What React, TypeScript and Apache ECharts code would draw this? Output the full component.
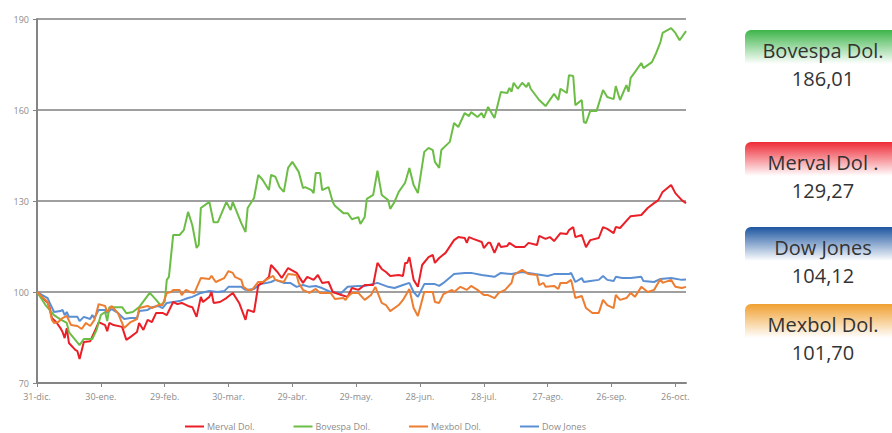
import React, { useEffect, useRef } from "react";
import * as echarts from "echarts";

// x values are day offsets from 31-dic.
const tickDays = [0, 30, 60, 90, 120, 150, 180, 210, 240, 270, 300];
const tickLabels = ["31-dic.", "30-ene.", "29-feb.", "30-mar.", "29-abr.", "29-may.", "28-jun.", "28-jul.", "27-ago.", "26-sep.", "26-oct."];
const yTicks = [70, 100, 130, 160, 190];

const seriesNames = ["Merval Dol.", "Bovespa Dol.", "Mexbol Dol.", "Dow Jones"];
const seriesColors = ["#ea1f27", "#6cbd45", "#ed7d31", "#5b8fd3"];

const mervalData: [number, number][] = [[0,100],[5,96.4],[6,94.7],[7,91.4],[9,90.1],[11,88.1],[12,86.8],[13,84.8],[14,88.1],[15,83.2],[18,80.9],[19,80.5],[20,77.9],[22,83.5],[25,83.8],[27,86.8],[29,90.1],[32,89.1],[33,87.1],[34,89.8],[36,89.1],[40,88.5],[42,84.2],[44,85.2],[47,86.8],[48,89.8],[50,87.5],[52,90.8],[54,90.1],[56,93.1],[59,93.1],[61,92.4],[64,96.7],[66,96],[68,96.4],[71,95.4],[73,95],[75,91.8],[77,98.4],[78,96.7],[81,98.4],[82,100],[83,96.4],[86,96.7],[89,98],[92,99.7],[95,96.4],[98,90.8],[99,94.1],[102,93.4],[104,102.3],[106,103],[109,105],[110,108.9],[113,106.6],[115,104.6],[118,107.9],[122,106.3],[125,103],[127,105],[130,104],[132,105.6],[134,103],[137,103.3],[139,100],[143,99],[146,98.4],[148,101.3],[151,100.7],[154,102.3],[158,102.3],[160,109.6],[162,107.6],[164,106.6],[166,105.3],[170,105.6],[172,105.3],[173,109.6],[174,109.6],[175,111.5],[177,104],[179,101.7],[181,108.9],[184,111.5],[186,112.2],[187,109.6],[189,111.2],[192,112.9],[196,117.1],[198,118.1],[201,117.8],[202,116.2],[203,118.1],[205,117.5],[209,116.5],[210,114.5],[212,116.2],[213,116.2],[215,112.9],[217,116.2],[218,114.8],[221,115.2],[222,116.2],[225,114.8],[229,114.8],[231,116.2],[235,115.5],[236,118.5],[239,117.5],[241,118.1],[243,116.8],[246,119.4],[249,119.1],[250,120.4],[252,121.4],[253,118.1],[256,118.8],[258,114.8],[260,117.1],[264,117.8],[266,121.4],[268,120.8],[271,119.4],[272,121.4],[274,121.1],[279,125],[284,125.4],[287,127.7],[290,129.3],[292,130.3],[294,133],[298,135.3],[300,132.6],[303,130.3],[305,129.27]];

const bovespaData: [number, number][] = [[0,100],[4,95.7],[8,92.4],[11,91],[14,89.8],[15,86.8],[20,82.5],[22,84.5],[26,84.5],[28,87.5],[30,92.4],[32,93.4],[33,90.4],[34,95],[40,95],[42,93],[45,93.4],[48,95],[53,99.7],[56,97.4],[58,95.7],[60,96.7],[61,104],[62,105],[64,118.8],[67,118.8],[69,120.4],[71,126.4],[73,122],[75,114.5],[76,115.5],[77,127.7],[81,129.7],[83,123],[85,123],[89,129.7],[91,127],[92,129.7],[96,122.7],[98,119.8],[99,127.7],[102,131],[104,138.6],[106,137],[109,133.6],[110,138.6],[112,138],[114,134.6],[116,133],[118,140.9],[120,142.9],[123,139.6],[125,134.3],[126,134.6],[129,133.6],[130,132.6],[131,139.2],[133,139.2],[134,133.6],[137,134.6],[139,129.7],[140,128.4],[144,126],[146,126],[148,124],[151,124.7],[152,122.4],[154,124.7],[155,130.7],[158,132],[160,140],[162,132],[165,130.3],[166,127.4],[168,129.7],[170,133],[173,136],[175,140.9],[177,135.3],[179,132.6],[182,146.2],[184,147.5],[186,146.8],[187,142.9],[189,140.9],[190,146.8],[194,149.5],[196,155.7],[198,154.4],[201,159],[203,158],[204,159.3],[207,157.7],[209,159],[210,157.4],[212,161],[215,157.4],[218,165.9],[221,165.6],[222,167.3],[223,166],[224,169],[226,167],[228,169],[230,167.6],[231,169],[232,167],[236,163.3],[239,161.3],[243,165.3],[245,163.3],[246,167],[249,165.6],[250,171.5],[252,171.2],[253,161.6],[256,163.3],[257,156],[258,155.7],[260,159.7],[263,159.7],[266,166.6],[268,164.3],[271,163.6],[272,167.9],[274,163.3],[277,168.2],[278,166],[279,170.6],[281,172.5],[284,175.5],[285,173.8],[289,175.8],[291,178.8],[293,182.4],[294,185.4],[298,187],[300,185.4],[302,183],[305,186.01]];

const mexbolData: [number, number][] = [[0,100],[5,96.7],[6,94.1],[7,90.8],[8,89.8],[10,90.1],[12,91.4],[14,92.1],[16,89.1],[19,88.8],[21,87.8],[23,89.8],[25,88.8],[27,90.8],[29,96],[32,95.4],[33,93.4],[35,95.4],[38,93.1],[41,88.1],[44,90.1],[47,91.1],[48,94.7],[52,95.4],[54,94.7],[57,95.7],[59,95.7],[61,99.7],[63,100],[64,100.7],[67,100.7],[68,99],[70,100.7],[72,100],[74,99.7],[77,104.6],[81,104.3],[82,105.3],[84,103.3],[88,104.6],[90,106.9],[92,106.3],[93,105],[96,104],[97,101.7],[99,100.7],[101,100.7],[104,103.3],[106,103.3],[109,104.6],[111,105.3],[112,104],[116,103.3],[118,105.9],[122,105.6],[123,103],[125,100.7],[128,99.7],[131,101],[133,99.7],[138,99.7],[140,97.7],[144,98],[145,97.4],[146,98.4],[148,99.7],[151,99.7],[154,97.4],[157,99],[159,101.7],[162,96.4],[164,95.7],[166,93.7],[170,95.7],[172,97.4],[175,101],[177,94.7],[179,92.1],[182,100],[186,100],[187,96.7],[189,96.4],[191,99.3],[195,100.7],[196,100],[199,101.7],[202,100.7],[204,102],[207,100.7],[210,99],[212,99],[215,98],[217,99.7],[220,100.7],[223,103],[224,105.6],[228,107.3],[231,105.9],[235,105.6],[236,102.3],[238,103],[239,101.7],[243,102],[245,101],[246,103],[249,103],[251,104],[253,98],[256,98.7],[258,94.7],[261,93.1],[264,93.1],[266,97.4],[268,95.7],[271,94.7],[272,99],[274,97.4],[277,98],[279,99.7],[281,98.4],[284,101.7],[287,100],[290,100.7],[293,104.3],[294,103],[298,104],[300,101.7],[303,101.3],[305,101.7]];

const dowData: [number, number][] = [[0,100],[5,98],[6,96.4],[8,93.4],[11,93.7],[12,94.1],[13,92.4],[14,93.4],[15,91.8],[19,91.8],[20,90.4],[22,91.8],[25,91.1],[26,92.4],[27,91.4],[29,94.1],[32,94.1],[33,93.1],[35,94.4],[38,93.1],[41,91.1],[44,91.4],[47,91.4],[48,93.7],[52,94.1],[54,95],[57,95.4],[59,94.7],[61,96.4],[64,96.7],[67,97],[71,98],[73,98.4],[77,99.7],[81,100.3],[85,100],[88,100.3],[90,101.7],[92,101.7],[96,101.7],[98,100.7],[102,101],[105,102.6],[110,103.3],[112,104],[116,103],[119,103],[122,101.7],[125,102.3],[128,101.7],[131,102],[134,101.3],[138,100],[143,99.7],[146,101.7],[151,102],[154,102],[160,103],[165,101.7],[168,101.3],[172,102.3],[175,103],[177,100],[179,98.4],[182,102.6],[187,102.6],[189,102],[191,103],[196,105.9],[201,106.3],[204,106.3],[209,105.6],[215,105],[218,106.3],[223,105.9],[228,106.6],[234,105.9],[240,105.3],[243,105.9],[250,105.9],[251,106.3],[253,103.3],[256,104.6],[257,103.3],[260,103.6],[264,104],[266,105.3],[268,104],[271,103.6],[272,105],[275,104.6],[279,104.6],[284,105],[285,103.6],[290,103.3],[293,104.3],[298,104.6],[303,104],[305,104.12]];

// Right-hand summary boxes
const boxNames = ["Bovespa Dol.", "Merval Dol .", "Dow Jones", "Mexbol Dol."];
const boxValues = ["186,01", "129,27", "104,12", "101,70"];
const boxColors = ["#3db54a", "#ee2a36", "#1d55a0", "#f0a030"];
const boxTops = [30, 142, 227, 304];

export default function App() {
  const ref = useRef<HTMLDivElement>(null);
  useEffect(() => {
    if (!ref.current) return;
    const chart = echarts.init(ref.current, null, { renderer: "svg" });
    const allData = [mervalData, bovespaData, mexbolData, dowData];
    const graphics: any[] = [];
    boxNames.forEach((name, i) => {
      const top = boxTops[i];
      graphics.push({
        type: "rect",
        left: 745,
        top: top,
        shape: { width: 160, height: 34, r: [6, 0, 0, 0] },
        style: {
          fill: {
            type: "linear", x: 0, y: 0, x2: 0, y2: 1,
            colorStops: [
              { offset: 0, color: boxColors[i] },
              { offset: 1, color: "#ffffff" },
            ],
          },
        },
      });
      graphics.push({
        type: "text",
        x: 823,
        y: top + 20,
        style: {
          text: name, fill: "#333333", fontSize: 20, fontFamily: "Open Sans",
          align: "center", verticalAlign: "middle",
        },
      });
      graphics.push({
        type: "text",
        x: 823,
        y: top + 48,
        style: {
          text: boxValues[i], fill: "#333333", fontSize: 20, fontFamily: "Open Sans",
          align: "center", verticalAlign: "middle",
        },
      });
    });
    chart.setOption({
      animation: false,
      textStyle: { fontFamily: "Open Sans" },
      grid: { left: 37, top: 19, right: 206, bottom: 50, containLabel: false },
      legend: {
        data: seriesNames,
        left: 185,
        top: 422,
        icon: "rect",
        itemWidth: 19,
        itemHeight: 2,
        itemGap: 39,
        padding: 0,
        textStyle: { fontSize: 9, color: "#8c8c8c", padding: [0, 0, 0, -2] },
      },
      xAxis: {
        type: "value",
        min: 0,
        max: 305,
        interval: 30,
        axisLine: { show: true, lineStyle: { color: "#858585", width: 2 } },
        axisTick: { show: true, length: 4, customValues: tickDays, lineStyle: { color: "#858585", width: 1 } },
        axisLabel: {
          customValues: tickDays,
          fontSize: 9,
          color: "#8c8c8c",
          margin: 9,
          formatter: (v: number) => tickLabels[tickDays.indexOf(v)] ?? "",
        },
        splitLine: { show: false },
      },
      yAxis: {
        type: "value",
        min: 70,
        max: 190,
        interval: 30,
        axisLine: { show: true, lineStyle: { color: "#858585", width: 2 } },
        axisTick: { show: true, length: 4, lineStyle: { color: "#858585" } },
        axisLabel: {
          fontSize: 9, color: "#8c8c8c", margin: 8,
          formatter: (v: number) => (yTicks.includes(v) ? String(v) : ""),
        },
        splitLine: { show: true, lineStyle: { color: "#7f7f7f", width: 1.5 } },
      },
      series: seriesNames.map((name, i) => ({
        name,
        type: "line",
        data: allData[i],
        showSymbol: false,
        symbol: "none",
        lineStyle: { color: seriesColors[i], width: 2 },
        itemStyle: { color: seriesColors[i] },
        z: i === 3 ? 2 : 3,
      })),
      graphic: graphics,
    });
    return () => chart.dispose();
  }, []);
  return <div ref={ref} style={{ width: 892, height: 433, position: "absolute", left: 0, top: 0 }} />;
}
